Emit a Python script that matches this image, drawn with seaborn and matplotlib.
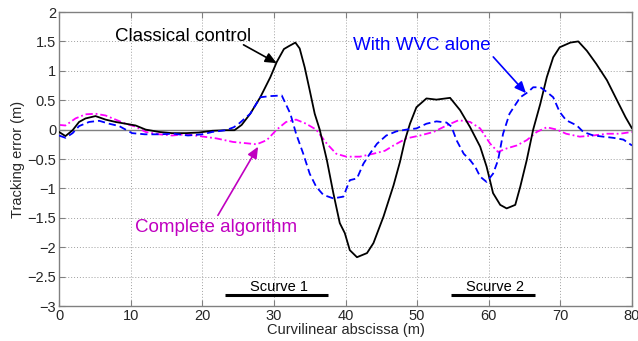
import matplotlib
matplotlib.use("Agg")
import matplotlib.pyplot as plt
import seaborn as sns
import pandas as pd

# Classical control
x_cc = [0, 0.9, 1.9, 2.8, 3.7, 5.1, 6.5, 7.9, 9.3, 10.7, 12.1, 14.0, 15.8, 17.7, 19.5, 21.4, 23.3, 24.5, 25.5, 26.7,
        28.1, 29.5, 30.4, 31.4, 32.1, 33.0, 33.6, 34.3, 35.0, 35.7, 36.4, 37.4, 38.3, 39.2, 39.9, 40.6, 41.6, 43.0,
        43.9, 45.3, 46.7, 47.6, 48.3, 49.0, 49.9, 51.3, 52.7, 54.6, 56.0, 57.4, 58.8, 59.7, 60.6, 61.6, 62.5, 63.7,
        64.4, 65.3, 66.2, 67.2, 68.1, 69.0, 69.9, 71.4, 72.5, 73.7, 75.0, 76.5, 77.9, 79.1, 80.0]
y_cc = [-0.04, -0.11, -0.01, 0.13, 0.19, 0.23, 0.17, 0.13, 0.10, 0.07, 0.00, -0.04, -0.06, -0.06, -0.05, -0.02, -0.01,
        -0.01, 0.08, 0.27, 0.55, 0.89, 1.15, 1.37, 1.42, 1.48, 1.38, 1.06, 0.67, 0.27, 0.00, -0.52, -1.08, -1.59,
        -1.76, -2.05, -2.17, -2.10, -1.93, -1.48, -0.95, -0.55, -0.18, 0.10, 0.38, 0.53, 0.51, 0.54, 0.33, 0.04,
        -0.29, -0.63, -1.08, -1.28, -1.34, -1.28, -0.97, -0.52, 0.00, 0.44, 0.89, 1.23, 1.40, 1.48, 1.50, 1.34,
        1.12, 0.84, 0.50, 0.21, 0.02]

# With WVC alone
x_wvc = [0, 0.9, 1.9, 2.8, 4.2, 5.6, 7.0, 8.4, 10.2, 12.0, 14.0, 16.0, 18.0, 20.0, 21.4, 23.3, 24.4, 25.1, 26.7, 28.1,
         29.5, 31.1, 32.3, 33.1, 34.1, 35.0, 35.9, 36.9, 38.3, 39.7, 40.6, 41.6, 42.5, 43.4, 44.4, 45.7, 47.1, 48.5,
         49.9, 51.3, 52.7, 54.1, 54.8, 55.5, 56.5, 57.4, 58.1, 58.8, 59.7, 60.6, 61.3, 62.0, 62.9, 64.4, 65.5, 66.2,
         67.2, 68.1, 69.0, 69.9, 70.8, 72.3, 73.2, 74.6, 76.0, 77.4, 78.8, 80.0]
y_wvc = [-0.10, -0.14, -0.06, 0.06, 0.13, 0.15, 0.10, 0.06, -0.06, -0.08, -0.08, -0.07, -0.10, -0.08, -0.04, -0.01,
         0.04, 0.10, 0.27, 0.55, 0.57, 0.58, 0.27, -0.07, -0.41, -0.75, -0.97, -1.11, -1.17, -1.14, -0.86, -0.83,
         -0.58, -0.41, -0.24, -0.10, -0.03, 0.00, 0.02, 0.10, 0.14, 0.12, 0.05, -0.18, -0.41, -0.52, -0.63, -0.80,
         -0.89, -0.75, -0.52, -0.07, 0.27, 0.55, 0.64, 0.72, 0.72, 0.64, 0.55, 0.30, 0.16, 0.07, -0.04, -0.10,
         -0.12, -0.14, -0.17, -0.27]

# Complete algorithm
x_ca = [0, 0.9, 2.3, 3.7, 5.1, 6.5, 7.9, 9.3, 10.7, 12.1, 14.0, 15.8, 17.7, 19.6, 22.0, 24.3, 26.0, 27.6, 29.0, 30.4,
        31.7, 33.1, 34.5, 35.9, 37.4, 38.7, 40.1, 42.0, 43.9, 45.5, 46.7, 48.5, 50.4, 52.3, 54.1, 55.8, 57.4, 58.8,
        60.2, 61.3, 62.5, 63.9, 65.3, 66.7, 68.1, 69.5, 70.8, 72.7, 74.6, 76.5, 78.3, 80.0]
y_ca = [0.08, 0.07, 0.19, 0.26, 0.27, 0.24, 0.17, 0.10, 0.05, -0.04, -0.08, -0.10, -0.08, -0.11, -0.15, -0.21, -0.23,
        -0.25, -0.18, 0.00, 0.13, 0.17, 0.10, 0.00, -0.24, -0.41, -0.46, -0.46, -0.41, -0.36, -0.27, -0.15, -0.10,
        -0.04, 0.07, 0.16, 0.13, 0.02, -0.24, -0.38, -0.32, -0.27, -0.18, -0.04, 0.04, 0.00, -0.07, -0.12, -0.10,
        -0.07, -0.07, -0.04]

# S-curve segments
scurve_labels = ["Scurve 1", "Scurve 2"]
scurve_start = [23.2, 54.7]
scurve_end = [37.6, 66.5]

x_ticks = [0, 10, 20, 30, 40, 50, 60, 70, 80]
y_ticks = [-3, -2.5, -2, -1.5, -1, -0.5, 0, 0.5, 1, 1.5, 2]

sns.set_style("white")
plt.rcParams['font.family'] = ['Liberation Sans', 'DejaVu Sans']

fig = plt.figure(figsize=(6.38, 3.41), dpi=100)
ax = fig.add_axes([0.0925, 0.1026, 0.8981, 0.8622])

ax.axhline(0, color="#808080", lw=1.0, zorder=1)

df_cc = pd.DataFrame({"x": x_cc, "y": y_cc})
df_wvc = pd.DataFrame({"x": x_wvc, "y": y_wvc})
df_ca = pd.DataFrame({"x": x_ca, "y": y_ca})

sns.lineplot(data=df_cc, x="x", y="y", ax=ax, color="black", lw=1.3, estimator=None, zorder=3)
sns.lineplot(data=df_wvc, x="x", y="y", ax=ax, color="#0000ff", lw=1.3, estimator=None, zorder=3)
ax.lines[-1].set_dashes([4, 2.2])
sns.lineplot(data=df_ca, x="x", y="y", ax=ax, color="#ff00ff", lw=1.3, estimator=None, zorder=2)
ax.lines[-1].set_dashes([4, 1.6, 1, 1.6])

for lab, s, e in zip(scurve_labels, scurve_start, scurve_end):
    ax.plot([s, e], [-2.82, -2.82], color="black", lw=2.2, solid_capstyle="butt", zorder=3)
    ax.text((s + e) / 2 + 0.3, -2.74, lab, ha="center", va="baseline", fontsize=10.5, color="black")

fs = 13.5
ax.annotate("Classical control", xy=(30.4, 1.13), xytext=(7.8, 1.51), fontsize=fs, color="black",
            va="baseline", ha="left",
            arrowprops=dict(arrowstyle="-|>,head_length=0.5,head_width=0.22", color="black", lw=1.2,
                            shrinkA=0, shrinkB=0, patchA=None, relpos=(0.945, 0.0)))
ax.annotate("With WVC alone", xy=(65.2, 0.62), xytext=(41.0, 1.36), fontsize=fs, color="#0000ff",
            va="baseline", ha="left",
            arrowprops=dict(arrowstyle="-|>,head_length=0.5,head_width=0.22", color="#0000ff", lw=1.2,
                            shrinkA=0, shrinkB=0, relpos=(1.0, 0.0)))
ax.annotate("Complete algorithm", xy=(27.8, -0.29), xytext=(10.6, -1.735), fontsize=fs, color="#c000c0",
            va="baseline", ha="left",
            arrowprops=dict(arrowstyle="-|>,head_length=0.5,head_width=0.22", color="#c000c0", lw=1.2,
                            shrinkA=0, shrinkB=0, relpos=(0.5, 1.0)))

ax.set_xlim(0, 80)
ax.set_ylim(-3, 2)
ax.set_xticks(x_ticks)
ax.set_yticks(y_ticks)
ax.set_xticklabels([str(v) for v in x_ticks])
ax.set_yticklabels([("\u2212" if v < 0 else "") + ("%g" % abs(v)) for v in y_ticks])
ax.tick_params(direction="in", length=4, color="#808080", labelsize=10.5, pad=2,
               top=True, right=True, bottom=True, left=True)
ax.grid(True, linestyle=(0, (1, 2)), color="#a0a0a0", lw=0.7)
for sp in ax.spines.values():
    sp.set_color("#808080")
    sp.set_linewidth(1.0)

ax.set_xlabel("Curvilinear abscissa (m)", fontsize=10.5, labelpad=0)
ax.set_ylabel("Tracking error (m)", fontsize=10.5, labelpad=2)

fig.savefig("out.png", dpi=100)
